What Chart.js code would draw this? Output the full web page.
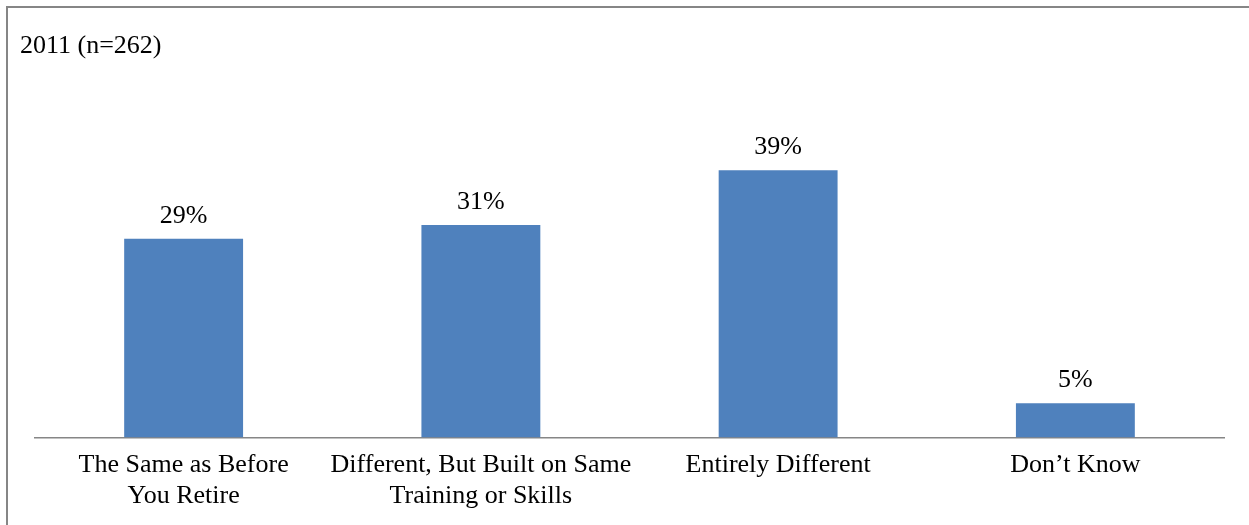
<!DOCTYPE html>
<html>
<head>
<meta charset="utf-8">
<script src="https://cdn.jsdelivr.net/npm/chart.js@4/dist/chart.umd.min.js"></script>
<style>
	html, body { margin: 0; padding: 0; background: #fff; }
	#wrap { position: relative; width: 1249px; height: 525px; overflow: hidden; }
	#frame { position: absolute; left: 6px; top: 6px; width: 1300px; height: 600px; border-left: 2px solid #868686; border-top: 2px solid #868686; }
	canvas { position: absolute; left: 0; top: 0; }
</style>
</head>
<body>
<div id="wrap">
	<div id="frame"></div>
	<canvas id="chart" width="1249" height="525"></canvas>
</div>
<script>
const TITLE = '2011 (n=262)';
const categories = [
	['The Same as Before', 'You Retire'],
	['Different, But Built on Same', 'Training or Skills'],
	'Entirely Different',
	'Don\u2019t Know'
];
const values = [29, 31, 39, 5];
const yMax = 45;

const FONT = '"Liberation Serif", "Times New Roman", serif';

// title and value labels drawn on top of the chart
var labelPlugin = {
	id: 'labels',
	afterDatasetsDraw: function (chart) {
		var ctx = chart.ctx;
		ctx.save();
		ctx.fillStyle = '#000';
		ctx.font = '26px ' + FONT;
		ctx.textAlign = 'left';
		ctx.textBaseline = 'middle';
		ctx.fillText(TITLE, 20, 46);

		ctx.textAlign = 'center';
		ctx.textBaseline = 'alphabetic';
		chart.getDatasetMeta(0).data.forEach(function (bar, i) {
			ctx.fillText(values[i] + '%', bar.x, bar.y - 16);
		});
		ctx.restore();
	}
};

new Chart(document.getElementById('chart').getContext('2d'), {
	type: 'bar',
	data: {
		labels: categories,
		datasets: [{
			data: values,
			backgroundColor: '#4F81BD',
			borderWidth: 0,
			barPercentage: 0.4,
			categoryPercentage: 1.0
		}]
	},
	options: {
		responsive: false,
		animation: false,
		layout: { padding: { left: 35, right: 25, top: 129, bottom: 1 } },
		plugins: {
			legend: { display: false },
			tooltip: { enabled: false }
		},
		scales: {
			x: {
				grid: { display: false, drawTicks: false },
				border: { display: true, color: '#868686', width: 1.5 },
				ticks: {
					color: '#000',
					padding: 12,
					maxRotation: 0,
					autoSkip: false,
					font: { family: FONT, size: 26, lineHeight: 1.2 }
				}
			},
			y: {
				display: false,
				min: 0,
				max: yMax
			}
		}
	},
	plugins: [labelPlugin]
});
</script>
</body>
</html>
